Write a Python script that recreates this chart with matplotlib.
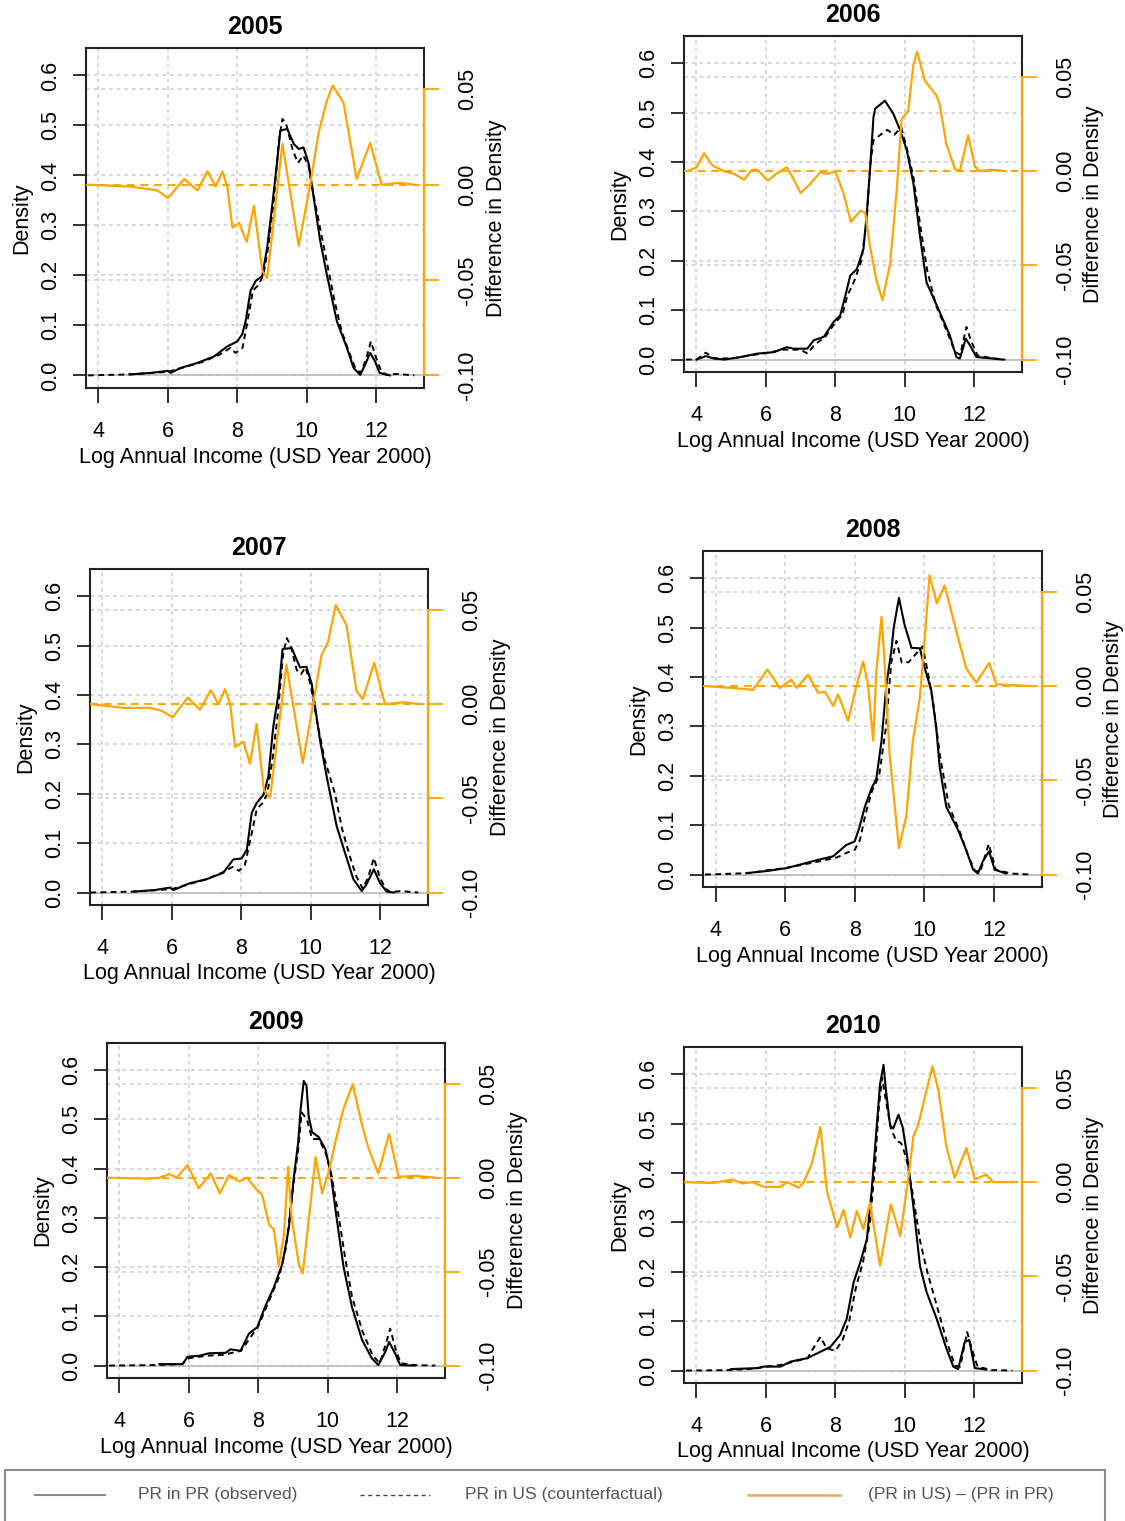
import matplotlib
matplotlib.use('Agg')
import matplotlib.pyplot as plt
from matplotlib.lines import Line2D
from matplotlib.patches import Rectangle

plt.rcParams['font.family'] = ['Liberation Sans', 'DejaVu Sans']

# ---------------- data ----------------
years = ['2005', '2006', '2007', '2008', '2009', '2010']
x_ticks = [4, 6, 8, 10, 12]
density_ticks = [0.0, 0.1, 0.2, 0.3, 0.4, 0.5, 0.6]
density_tick_labels = ['0.0', '0.1', '0.2', '0.3', '0.4', '0.5', '0.6']
diff_ticks = [-0.10, -0.05, 0.00, 0.05]
diff_tick_labels = ['-0.10', '-0.05', '0.00', '0.05']
x_label = 'Log Annual Income (USD Year 2000)'
y_label = 'Density'
y2_label = 'Difference in Density'
legend_labels = ['PR in PR (observed)', 'PR in US (counterfactual)', '(PR in US) \u2013 (PR in PR)']

# 2005
x_obs_2005 = [4.9, 5.5, 6.0, 6.08, 6.37, 6.85, 7.33, 7.71, 8.0, 8.14, 8.24, 8.38, 8.53, 8.72, 8.86, 9.0, 9.15, 9.24, 9.44, 9.63, 9.77, 9.91, 10.06, 10.2, 10.39, 10.58, 10.87, 11.16, 11.35, 11.54, 11.68, 11.83, 11.97, 12.1, 12.4]
y_obs_2005 = [0.002, 0.005, 0.009, 0.005, 0.015, 0.025, 0.038, 0.058, 0.068, 0.082, 0.108, 0.169, 0.189, 0.199, 0.256, 0.336, 0.429, 0.49, 0.493, 0.463, 0.453, 0.456, 0.423, 0.356, 0.269, 0.202, 0.108, 0.055, 0.015, 0.001, 0.021, 0.045, 0.028, 0.005, 0.0]
x_cf_2005 = [3.7, 4.9, 6.0, 6.5, 7.0, 7.5, 7.8, 7.95, 8.15, 8.3, 8.45, 8.6, 8.75, 8.9, 9.05, 9.2, 9.3, 9.4, 9.6, 9.75, 9.9, 10.05, 10.2, 10.4, 10.6, 10.8, 11.0, 11.2, 11.4, 11.55, 11.7, 11.85, 12.0, 12.15, 12.3, 12.6, 13.1]
y_cf_2005 = [0.0, 0.002, 0.007, 0.017, 0.027, 0.042, 0.055, 0.045, 0.055, 0.11, 0.17, 0.18, 0.2, 0.26, 0.35, 0.47, 0.513, 0.505, 0.45, 0.425, 0.44, 0.42, 0.36, 0.29, 0.22, 0.15, 0.09, 0.05, 0.015, 0.005, 0.03, 0.068, 0.035, 0.008, 0.001, 0.003, 0.0]
x_diff_2005 = [3.7, 4.94, 5.7, 6.0, 6.47, 6.85, 7.14, 7.38, 7.57, 7.71, 7.86, 8.05, 8.27, 8.48, 8.72, 8.86, 9.3, 9.77, 10.1, 10.34, 10.58, 10.75, 11.06, 11.44, 11.83, 12.16, 12.7, 13.1]
y_diff_2005 = [0.0, -0.001, -0.003, -0.007, 0.003, -0.003, 0.007, -0.001, 0.007, -0.001, -0.0225, -0.020, -0.030, -0.011, -0.045, -0.049, 0.0215, -0.032, 0.0, 0.027, 0.044, 0.052, 0.043, 0.003, 0.022, 0.0, 0.001, 0.0]

# 2006
x_obs_2006 = [4.0, 4.27, 4.5, 4.8, 5.27, 5.75, 6.23, 6.6, 6.8, 7.19, 7.38, 7.67, 7.95, 8.14, 8.29, 8.43, 8.62, 8.81, 8.91, 9.0, 9.1, 9.15, 9.43, 9.67, 9.87, 10.06, 10.25, 10.44, 10.63, 11.01, 11.3, 11.49, 11.59, 11.76, 11.88, 12.07, 12.55, 12.83]
y_obs_2006 = [0.0, 0.007, 0.002, 0.0, 0.005, 0.012, 0.015, 0.025, 0.022, 0.022, 0.039, 0.046, 0.076, 0.089, 0.129, 0.17, 0.183, 0.223, 0.297, 0.384, 0.491, 0.508, 0.524, 0.498, 0.464, 0.424, 0.357, 0.25, 0.156, 0.096, 0.049, 0.005, 0.002, 0.042, 0.029, 0.005, 0.002, 0.0]
x_cf_2006 = [3.7, 4.0, 4.27, 4.5, 5.0, 5.5, 6.0, 6.5, 7.0, 7.2, 7.4, 7.7, 8.0, 8.2, 8.35, 8.53, 8.75, 8.9, 9.0, 9.1, 9.3, 9.5, 9.7, 9.9, 10.05, 10.25, 10.45, 10.65, 10.9, 11.2, 11.45, 11.6, 11.78, 11.9, 12.1, 12.6, 12.9]
y_cf_2006 = [0.0, 0.0, 0.014, 0.003, 0.002, 0.008, 0.013, 0.02, 0.02, 0.012, 0.03, 0.045, 0.075, 0.09, 0.13, 0.156, 0.2, 0.28, 0.39, 0.444, 0.455, 0.465, 0.455, 0.47, 0.43, 0.37, 0.27, 0.18, 0.11, 0.06, 0.015, 0.01, 0.066, 0.04, 0.008, 0.002, 0.0]
x_diff_2006 = [3.74, 4.0, 4.22, 4.46, 4.79, 5.08, 5.37, 5.6, 5.75, 6.06, 6.33, 6.6, 6.76, 7.0, 7.28, 7.57, 7.76, 8.0, 8.24, 8.45, 8.72, 8.86, 9.0, 9.2, 9.36, 9.58, 9.77, 9.91, 10.1, 10.25, 10.36, 10.58, 10.92, 11.0, 11.2, 11.45, 11.59, 11.83, 12.02, 12.16, 12.5, 12.9]
y_diff_2006 = [0.0, 0.002, 0.0095, 0.003, 0.0, -0.0015, -0.0045, 0.0007, 0.0007, -0.005, -0.001, 0.002, -0.003, -0.0116, -0.0067, -0.0005, -0.0015, 0.0, -0.012, -0.027, -0.021, -0.022, -0.04, -0.059, -0.0685, -0.049, -0.01, 0.0276, 0.032, 0.0566, 0.0633, 0.048, 0.04, 0.036, 0.0144, 0.001, 0.0003, 0.019, 0.0025, 0.0, 0.0007, 0.0]

# 2007
x_obs_2007 = [4.9, 5.5, 5.95, 6.04, 6.52, 7.0, 7.48, 7.77, 8.01, 8.16, 8.3, 8.44, 8.64, 8.78, 8.92, 9.07, 9.19, 9.45, 9.69, 9.88, 10.03, 10.27, 10.46, 10.75, 10.99, 11.23, 11.47, 11.61, 11.82, 11.99, 12.19, 12.4]
y_obs_2007 = [0.002, 0.005, 0.01, 0.005, 0.019, 0.027, 0.04, 0.067, 0.069, 0.087, 0.161, 0.181, 0.198, 0.235, 0.335, 0.402, 0.493, 0.495, 0.456, 0.457, 0.422, 0.308, 0.235, 0.134, 0.08, 0.027, 0.003, 0.017, 0.047, 0.02, 0.002, 0.0]
x_cf_2007 = [3.65, 4.9, 6.0, 6.5, 7.0, 7.5, 7.75, 7.93, 8.1, 8.3, 8.45, 8.6, 8.75, 8.9, 9.05, 9.2, 9.31, 9.42, 9.6, 9.72, 9.85, 10.0, 10.2, 10.4, 10.7, 10.9, 11.1, 11.3, 11.5, 11.65, 11.82, 11.97, 12.15, 12.3, 12.6, 13.1]
y_cf_2007 = [0.0, 0.002, 0.007, 0.017, 0.027, 0.042, 0.052, 0.044, 0.055, 0.12, 0.17, 0.18, 0.2, 0.27, 0.36, 0.48, 0.515, 0.5, 0.45, 0.442, 0.456, 0.42, 0.34, 0.27, 0.2, 0.13, 0.08, 0.035, 0.008, 0.03, 0.07, 0.035, 0.008, 0.001, 0.003, 0.0]
x_diff_2007 = [3.64, 4.6, 5.37, 5.7, 6.02, 6.46, 6.81, 7.12, 7.34, 7.53, 7.68, 7.82, 8.06, 8.25, 8.44, 8.65, 8.83, 9.3, 9.77, 10.07, 10.31, 10.5, 10.72, 11.03, 11.32, 11.5, 11.83, 12.14, 12.7, 13.1]
y_diff_2007 = [0.0, -0.002, -0.002, -0.0035, -0.007, 0.0035, -0.003, 0.0074, 0.0, 0.0079, 0.0, -0.0228, -0.02, -0.0316, -0.0105, -0.0456, -0.0495, 0.021, -0.0312, 0.0, 0.026, 0.033, 0.0526, 0.042, 0.007, 0.0026, 0.022, 0.0, 0.001, 0.0]

# 2008
x_obs_2008 = [4.89, 5.46, 6.04, 6.42, 6.9, 7.38, 7.76, 8.0, 8.14, 8.29, 8.48, 8.62, 8.77, 8.91, 9.05, 9.12, 9.27, 9.43, 9.63, 9.87, 10.01, 10.2, 10.34, 10.44, 10.63, 10.97, 11.2, 11.4, 11.54, 11.68, 11.86, 12.02, 12.35]
y_obs_2008 = [0.003, 0.007, 0.013, 0.02, 0.029, 0.037, 0.06, 0.067, 0.097, 0.137, 0.174, 0.194, 0.271, 0.385, 0.452, 0.5, 0.56, 0.506, 0.459, 0.458, 0.419, 0.372, 0.298, 0.218, 0.137, 0.09, 0.05, 0.01, 0.002, 0.027, 0.047, 0.01, 0.002]
x_cf_2008 = [3.7, 5.0, 5.5, 6.0, 6.5, 7.0, 7.5, 7.8, 8.0, 8.15, 8.3, 8.5, 8.7, 8.9, 9.05, 9.2, 9.35, 9.55, 9.75, 9.95, 10.1, 10.25, 10.45, 10.7, 11.0, 11.25, 11.45, 11.6, 11.85, 12.05, 12.5, 13.1]
y_cf_2008 = [0.0, 0.003, 0.009, 0.013, 0.02, 0.027, 0.035, 0.045, 0.05, 0.07, 0.12, 0.17, 0.2, 0.3, 0.43, 0.473, 0.429, 0.43, 0.446, 0.462, 0.41, 0.35, 0.24, 0.14, 0.09, 0.04, 0.008, 0.005, 0.062, 0.01, 0.002, 0.0]
x_diff_2008 = [3.69, 4.5, 5.08, 5.49, 5.85, 6.18, 6.33, 6.66, 6.95, 7.14, 7.38, 7.52, 7.81, 8.0, 8.24, 8.38, 8.53, 8.62, 8.77, 8.86, 9.0, 9.27, 9.48, 9.67, 9.87, 10.01, 10.15, 10.36, 10.58, 10.92, 11.2, 11.49, 11.86, 12.07, 12.55, 13.1]
y_diff_2008 = [0.0, -0.001, -0.002, 0.0088, -0.001, 0.0035, -0.001, 0.006, -0.0035, -0.003, -0.0105, -0.0044, -0.0184, -0.0035, 0.013, 0.001, -0.029, 0.0079, 0.0368, 0.0114, -0.036, -0.086, -0.069, -0.029, -0.006, 0.0254, 0.0588, 0.0439, 0.0535, 0.029, 0.0096, 0.0018, 0.0123, 0.001, 0.0005, 0.0]

# 2009
x_obs_2009 = [5.15, 5.82, 5.96, 6.3, 6.58, 7.06, 7.2, 7.49, 7.73, 7.97, 8.21, 8.45, 8.69, 8.88, 9.02, 9.15, 9.22, 9.31, 9.39, 9.45, 9.55, 9.74, 9.93, 10.08, 10.27, 10.46, 10.7, 10.99, 11.27, 11.46, 11.66, 11.77, 11.94, 12.09, 12.5]
y_obs_2009 = [0.003, 0.003, 0.018, 0.02, 0.025, 0.026, 0.033, 0.03, 0.065, 0.078, 0.122, 0.159, 0.206, 0.279, 0.38, 0.454, 0.521, 0.578, 0.568, 0.507, 0.474, 0.464, 0.44, 0.393, 0.293, 0.199, 0.119, 0.052, 0.015, 0.001, 0.028, 0.048, 0.025, 0.001, 0.0]
x_cf_2009 = [3.7, 5.0, 5.8, 6.0, 6.5, 7.0, 7.5, 7.8, 8.0, 8.3, 8.6, 8.8, 9.0, 9.15, 9.25, 9.4, 9.55, 9.75, 9.95, 10.1, 10.3, 10.5, 10.7, 11.0, 11.3, 11.5, 11.7, 11.8, 11.95, 12.1, 12.5, 13.1]
y_cf_2009 = [0.0, 0.001, 0.003, 0.015, 0.02, 0.022, 0.03, 0.06, 0.08, 0.13, 0.18, 0.24, 0.36, 0.44, 0.514, 0.5, 0.46, 0.46, 0.43, 0.39, 0.31, 0.22, 0.14, 0.07, 0.02, 0.005, 0.05, 0.075, 0.035, 0.005, 0.001, 0.0]
x_diff_2009 = [3.62, 4.86, 5.15, 5.44, 5.65, 5.96, 6.28, 6.63, 6.89, 7.16, 7.44, 7.68, 7.92, 8.11, 8.31, 8.45, 8.59, 8.74, 8.86, 8.96, 9.17, 9.28, 9.45, 9.65, 9.84, 10.03, 10.22, 10.46, 10.72, 10.99, 11.18, 11.46, 11.77, 12.04, 12.52, 13.1]
y_diff_2009 = [0.0, -0.0005, 0.0, 0.002, 0.0, 0.0067, -0.0056, 0.0023, -0.0083, 0.0014, -0.002, 0.0, -0.0056, -0.009, -0.025, -0.0276, -0.047, -0.03, 0.0058, -0.0214, -0.046, -0.051, -0.023, 0.011, -0.0083, 0.0032, 0.019, 0.037, 0.0497, 0.028, 0.0155, 0.0023, 0.0234, 0.0005, 0.001, 0.0]

# 2010
x_obs_2010 = [4.99, 5.75, 5.94, 6.42, 6.71, 6.9, 7.19, 7.57, 7.86, 8.14, 8.33, 8.53, 8.72, 8.91, 9.05, 9.2, 9.29, 9.39, 9.46, 9.58, 9.67, 9.82, 9.94, 10.06, 10.25, 10.44, 10.63, 10.92, 11.2, 11.4, 11.54, 11.73, 11.86, 12.02, 12.35]
y_obs_2010 = [0.003, 0.005, 0.008, 0.008, 0.018, 0.021, 0.025, 0.038, 0.048, 0.072, 0.105, 0.179, 0.219, 0.266, 0.366, 0.5, 0.58, 0.619, 0.567, 0.496, 0.49, 0.518, 0.493, 0.44, 0.332, 0.212, 0.159, 0.105, 0.045, 0.008, 0.003, 0.058, 0.062, 0.005, 0.002]
x_cf_2010 = [3.7, 5.0, 5.7, 6.0, 6.5, 6.8, 7.2, 7.45, 7.57, 7.75, 8.0, 8.2, 8.4, 8.6, 8.8, 9.0, 9.15, 9.25, 9.35, 9.45, 9.6, 9.75, 9.9, 10.05, 10.25, 10.45, 10.65, 10.85, 11.05, 11.25, 11.45, 11.6, 11.8, 11.95, 12.1, 12.5, 13.1]
y_cf_2010 = [0.0, 0.001, 0.004, 0.008, 0.012, 0.018, 0.025, 0.055, 0.068, 0.045, 0.04, 0.06, 0.1, 0.17, 0.22, 0.3, 0.42, 0.53, 0.593, 0.55, 0.49, 0.466, 0.46, 0.43, 0.35, 0.26, 0.2, 0.15, 0.1, 0.05, 0.01, 0.008, 0.078, 0.04, 0.008, 0.001, 0.0]
x_diff_2010 = [3.65, 4.5, 5.03, 5.32, 5.61, 5.94, 6.42, 6.61, 6.95, 7.09, 7.33, 7.57, 7.76, 8.05, 8.24, 8.43, 8.62, 8.81, 9.0, 9.29, 9.6, 9.87, 10.1, 10.25, 10.39, 10.63, 10.8, 10.97, 11.2, 11.44, 11.78, 12.02, 12.35, 12.55, 13.1]
y_diff_2010 = [0.0, -0.0005, 0.0014, -0.0007, 0.0, -0.0025, -0.0025, 0.0, -0.003, 0.0, 0.0102, 0.0292, -0.005, -0.024, -0.0148, -0.0294, -0.0153, -0.025, -0.0109, -0.0443, -0.0118, -0.0285, 0.0014, 0.0243, 0.0304, 0.0489, 0.0615, 0.0489, 0.019, 0.0023, 0.0181, 0.0014, 0.004, 0.0, 0.0]

series = {
    '2005': (x_obs_2005, y_obs_2005, x_cf_2005, y_cf_2005, x_diff_2005, y_diff_2005),
    '2006': (x_obs_2006, y_obs_2006, x_cf_2006, y_cf_2006, x_diff_2006, y_diff_2006),
    '2007': (x_obs_2007, y_obs_2007, x_cf_2007, y_cf_2007, x_diff_2007, y_diff_2007),
    '2008': (x_obs_2008, y_obs_2008, x_cf_2008, y_cf_2008, x_diff_2008, y_diff_2008),
    '2009': (x_obs_2009, y_obs_2009, x_cf_2009, y_cf_2009, x_diff_2009, y_diff_2009),
    '2010': (x_obs_2010, y_obs_2010, x_cf_2010, y_cf_2010, x_diff_2010, y_diff_2010),
}

# ---------------- layout / style ----------------
W, H = 1125, 1521
boxes = {  # pixel boxes (left, top, right, bottom)
    '2005': (86, 48, 424, 388),
    '2006': (684, 36, 1022, 372),
    '2007': (90, 569, 428, 905),
    '2008': (703, 551, 1042, 887),
    '2009': (107, 1043, 445, 1378),
    '2010': (684, 1047, 1022, 1383),
}
XLIM = (3.64, 13.38)
YLIM = (-0.0252, 0.655)
DLIM = (-0.1066, 0.0717)
ORANGE = '#FFA500'
GRID = '#cdcdcd'
FS = 15.5

fig = plt.figure(figsize=(W / 100, H / 100), dpi=100)


def d2y(d):
    return YLIM[0] + (d - DLIM[0]) / (DLIM[1] - DLIM[0]) * (YLIM[1] - YLIM[0])


for yr in years:
    x0, y0, x1, y1 = boxes[yr]
    wpx, hpx = x1 - x0, y1 - y0
    ax = fig.add_axes([x0 / W, 1 - y1 / H, wpx / W, hpx / H])
    ax.set_xlim(*XLIM)
    ax.set_ylim(*YLIM)
    xo, yo, xc, yc, xd, yd = series[yr]

    for xt in x_ticks:
        ax.axvline(xt, color=GRID, lw=1.1, ls=(0, (2.5, 2.5)), zorder=0.5)
    for yt in density_ticks:
        ax.axhline(yt, color=GRID, lw=1.1, ls=(0, (2.5, 2.5)), zorder=0.5)
    for dt in diff_ticks:
        if dt != 0:
            ax.axhline(d2y(dt), color=GRID, lw=1.1, ls=(0, (2.5, 2.5)), zorder=0.5)
    ax.axhline(0, color='#bdbdbd', lw=1.2, zorder=0.6)

    ax.plot(xc, yc, color='black', lw=1.4, ls=(0, (3, 2.2)), zorder=2)
    ax.plot(xo, yo, color='black', lw=1.5, zorder=2.1)

    for s in ax.spines.values():
        s.set_color('#222222')
        s.set_linewidth(1.5)
    ax.set_xticks(x_ticks)
    ax.set_xticklabels([str(t) for t in x_ticks])
    ax.set_yticks(density_ticks)
    ax.set_yticklabels(density_tick_labels)
    ax.tick_params(axis='x', length=10.5, width=1.3, pad=13, labelsize=FS, color='#222222')
    ax.tick_params(axis='y', length=9.5, width=1.3, pad=8.5, labelsize=FS, labelrotation=90, color='#222222')
    for lbl in ax.get_yticklabels():
        lbl.set_va('center')

    ax.set_xlabel(x_label, fontsize=FS)
    ax.xaxis.set_label_coords(0.5, -69 / hpx)
    ax.xaxis.label.set_va('center')
    ax.set_ylabel(y_label, fontsize=FS)
    ax.yaxis.set_label_coords(-64 / wpx, 0.5)
    ax.yaxis.label.set_va('center')

    ax.text(0.5, 1 + 21 / hpx, yr, transform=ax.transAxes, ha='center', va='center',
            fontsize=18, fontweight='bold')

    ax2 = ax.twinx()
    ax2.set_ylim(*DLIM)
    ax2.axhline(0, color=ORANGE, lw=1.4, ls=(0, (4, 3)), zorder=1)
    ax2.plot(xd, yd, color=ORANGE, lw=1.6, zorder=3)
    for s in ['left', 'top', 'bottom']:
        ax2.spines[s].set_visible(False)
    ax2.spines['right'].set_color(ORANGE)
    ax2.spines['right'].set_linewidth(1.5)
    ax2.spines['right'].set_bounds(-0.10, 0.05)
    ax2.set_yticks(diff_ticks)
    ax2.set_yticklabels(diff_tick_labels)
    ax2.tick_params(axis='y', length=10.5, width=1.3, pad=13.5, labelsize=FS, labelrotation=90,
                    color=ORANGE, labelcolor='black')
    for lbl in ax2.get_yticklabels():
        lbl.set_va('center')
    ax2.set_ylabel(y2_label, fontsize=FS)
    ax2.yaxis.set_label_coords(1 + 72 / wpx, 0.5)
    ax2.yaxis.label.set_va('center')

# ---------------- legend box ----------------
fig.add_artist(Rectangle((0, -0.05), 1, 1.05 - 1462 / H, transform=fig.transFigure,
                         facecolor='white', edgecolor='none', zorder=5))
fig.add_artist(Rectangle((5 / W, 1 - 1540 / H), 1100 / W, 70 / H, transform=fig.transFigure,
                         facecolor='white', edgecolor='#8c8c8c', lw=1.5, zorder=6, clip_on=False))
ly = 1 - 1495 / H
fig.add_artist(Line2D([35 / W, 105 / W], [ly, ly], transform=fig.transFigure,
                      color='#8c8c8c', lw=1.5, zorder=7))
fig.add_artist(Line2D([360 / W, 430 / W], [ly, ly], transform=fig.transFigure,
                      color='#444444', lw=1.0, ls=(0, (3, 2.5)), zorder=7))
fig.add_artist(Line2D([748 / W, 840 / W], [ly, ly], transform=fig.transFigure,
                      color='#F4A15D', lw=1.8, zorder=7))
for xpos, txt in zip([138, 465, 868], legend_labels):
    t = fig.text(xpos / W, ly, txt, fontsize=12.5, color='#555555', ha='left', va='center')
    t.set_zorder(8)

fig.savefig('out.png', dpi=100)
